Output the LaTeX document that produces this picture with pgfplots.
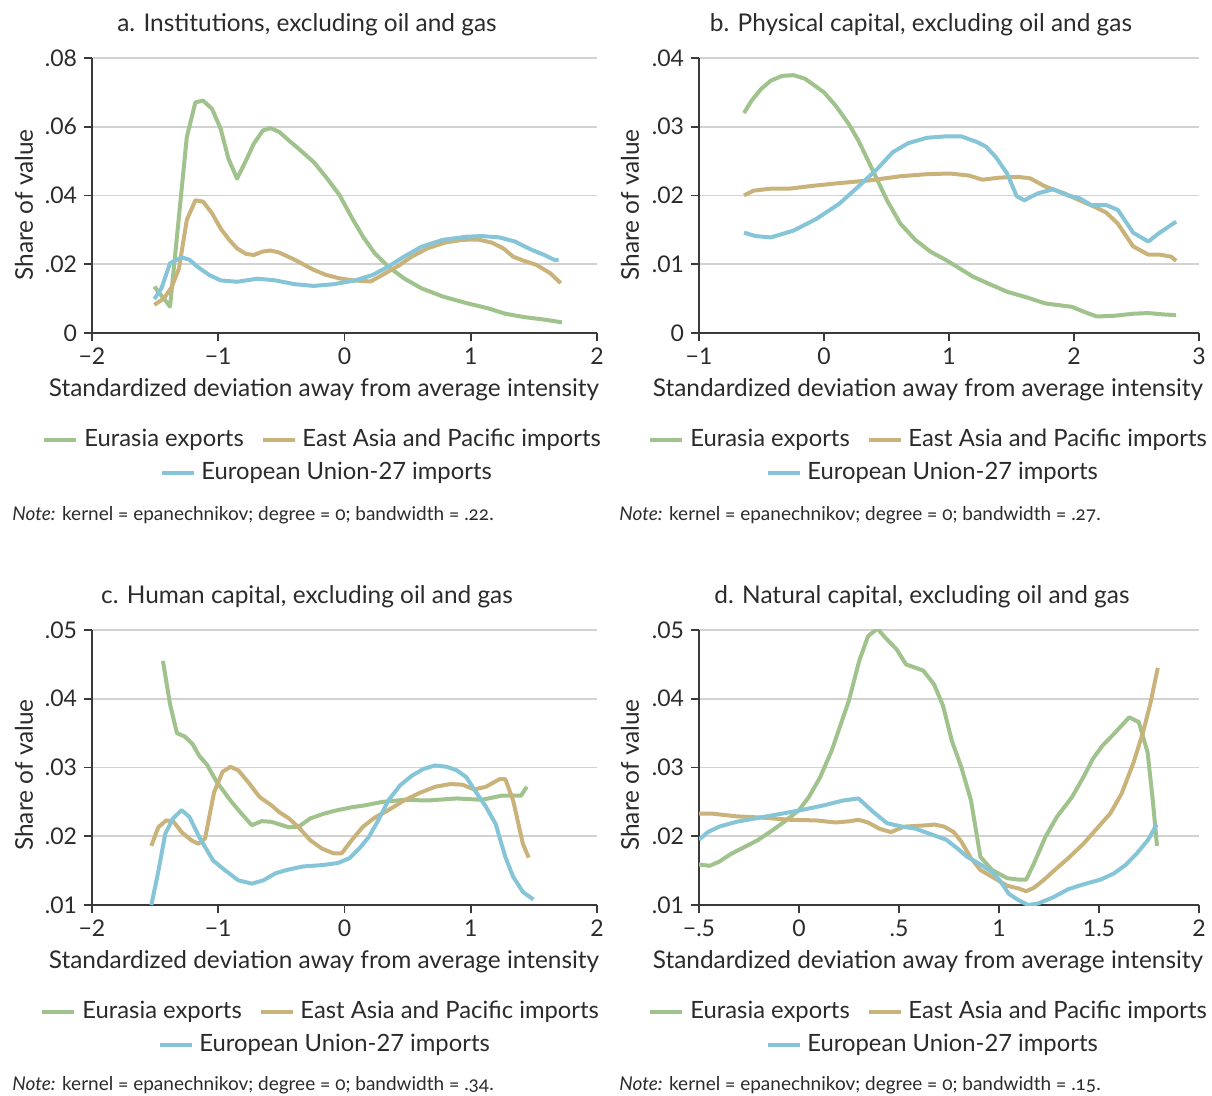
\documentclass[border=0pt]{standalone}
\usepackage{fontspec}
\setmainfont{Lato}
\newfontfamily\notefont[Numbers=OldStyle]{Lato}
\usepackage{pgfplots}
\pgfplotsset{compat=1.18}

\definecolor{cEur}{HTML}{A0C28C}
\definecolor{cEap}{HTML}{C9B37A}
\definecolor{cEu}{HTML}{86C5D8}
\definecolor{cAx}{HTML}{3A3A3A}
\definecolor{cGrid}{HTML}{D2D2D2}
\definecolor{cTxt}{HTML}{2B2B2B}

\pgfplotsset{panel/.style={
  scale only axis, width=252.5pt, height=137.5pt, anchor=south west,
  axis x line=bottom, axis y line=left,
  axis line style={-, cAx, line width=0.9pt},
  ymajorgrids, grid style={cGrid, line width=0.8pt},
  tick style={cAx, line width=0.9pt}, major tick length=4pt,
  xtick align=outside, ytick align=outside,
  scaled y ticks=false, scaled x ticks=false,
  tick label style={font=\fontsize{11.5}{13}\selectfont, text=cTxt},
  /pgf/number format/assume math mode=true,
  every axis plot/.append style={line width=2pt, no markers, line join=round},
}}

\newcommand{\lbl}{\fontsize{12.2}{14}\selectfont}
\newcommand{\leglbl}{\fontsize{11.9}{14}\selectfont}
\newcommand{\notes}{\notefont\fontsize{9.5}{11}\selectfont}

% legend: x offset (px), y offset (px)
\newcommand{\legend}[2]{%
  \begin{scope}[shift={(#1,#2)}]
    \draw[cEur, line width=2pt] (44,440) -- (76,440);
    \node[anchor=west, inner sep=0, text=cTxt] at (84,440) {\leglbl Eurasia exports};
    \draw[cEap, line width=2pt] (263,440) -- (295,440);
    \node[anchor=west, inner sep=0, text=cTxt] at (302,440) {\leglbl East Asia and Pacific imports};
    \draw[cEu, line width=2pt] (162,473) -- (194,473);
    \node[anchor=west, inner sep=0, text=cTxt] at (201,473) {\leglbl European Union-27 imports};
  \end{scope}}

\begin{document}
\begin{tikzpicture}
\path[use as bounding box] (0,0) rectangle (606pt,-548pt);

% ---------- a ----------
\begin{axis}[panel, at={(46pt,-166.5pt)},
  xmin=-2, xmax=2, ymin=0, ymax=0.08,
  xtick={-2,-1,0,1,2}, xticklabels={−2,−1,0,1,2},
  ytick={0,0.02,0.04,0.06,0.08}, yticklabels={0,.02,.04,.06,.08}]
\addplot[cEur] coordinates {
(-1.506,.0135) (-1.382,.0077) (-1.249,.0570) (-1.181,.0671) (-1.120,.0676)
(-1.049,.0652) (-0.981,.0594) (-0.919,.0507) (-0.851,.0449) (-0.780,.0502)
(-0.718,.0551) (-0.647,.0589) (-0.586,.0596) (-0.517,.0585) (-0.440,.0560)
(-0.363,.0536) (-0.246,.0498) (-0.147,.0454) (-0.039,.0401) (0.054,.0338)
(0.147,.0280) (0.239,.0232) (0.347,.0193) (0.471,.0159) (0.610,.0130)
(0.780,.0106) (0.965,.0087) (1.135,.0072) (1.274,.0056) (1.429,.0046)
(1.583,.0039) (1.722,.0031)};
\addplot[cEap] coordinates {
(-1.506,.0082) (-1.429,.0101) (-1.367,.0135) (-1.311,.0188) (-1.249,.0329)
(-1.181,.0386) (-1.120,.0382) (-1.049,.0348) (-0.981,.0304) (-0.913,.0271)
(-0.851,.0246) (-0.780,.0230) (-0.718,.0227) (-0.647,.0237) (-0.586,.0240)
(-0.517,.0234) (-0.394,.0213) (-0.246,.0184) (-0.147,.0169) (-0.039,.0159)
(0.069,.0153) (0.208,.0150) (0.301,.0169) (0.425,.0195) (0.532,.0222)
(0.656,.0246) (0.795,.0263) (0.934,.0271) (1.058,.0272) (1.166,.0263)
(1.259,.0246) (1.336,.0222) (1.413,.0211) (1.521,.0198) (1.629,.0174)
(1.713,.0145)};
\addplot[cEu] coordinates {
(-1.506,.0099) (-1.450,.0130) (-1.382,.0203) (-1.290,.0220) (-1.228,.0213)
(-1.166,.0193) (-1.073,.0169) (-0.981,.0153) (-0.851,.0149) (-0.688,.0158)
(-0.548,.0153) (-0.394,.0142) (-0.246,.0137) (-0.085,.0142) (0.085,.0153)
(0.224,.0169) (0.347,.0193) (0.471,.0222) (0.610,.0251) (0.780,.0271)
(0.965,.0280) (1.089,.0282) (1.228,.0278) (1.351,.0266) (1.475,.0243)
(1.583,.0227) (1.660,.0213) (1.697,.0213)};
\end{axis}

% ---------- b ----------
\begin{axis}[panel, at={(349.5pt,-166.5pt)}, width=250pt,
  xmin=-1, xmax=3, ymin=0, ymax=0.04,
  xtick={-1,0,1,2,3}, xticklabels={−1,0,1,2,3},
  ytick={0,0.01,0.02,0.03,0.04}, yticklabels={0,.01,.02,.03,.04}]
\addplot[cEur] coordinates {
(-0.640,.0320) (-0.579,.0338) (-0.503,.0355) (-0.426,.0367) (-0.335,.0374)
(-0.243,.0375) (-0.153,.0370) (-0.076,.0360) (0.000,.0350) (0.092,.0331)
(0.198,.0304) (0.275,.0280) (0.352,.0251) (0.428,.0222) (0.504,.0193)
(0.611,.0159) (0.733,.0135) (0.854,.0118) (0.977,.0106) (1.084,.0094)
(1.191,.0082) (1.313,.0072) (1.465,.0060) (1.618,.0052) (1.771,.0043)
(1.984,.0038) (2.091,.0030) (2.183,.0024) (2.320,.0025) (2.473,.0028)
(2.594,.0029) (2.716,.0027) (2.817,.0026)};
\addplot[cEap] coordinates {
(-0.640,.0200) (-0.564,.0207) (-0.426,.0210) (-0.274,.0210) (-0.092,.0214)
(0.122,.0218) (0.367,.0222) (0.611,.0228) (0.824,.0231) (1.008,.0232)
(1.160,.0229) (1.267,.0223) (1.404,.0226) (1.557,.0227) (1.648,.0225)
(1.771,.0213) (1.923,.0203) (2.045,.0193) (2.183,.0182) (2.259,.0175)
(2.351,.0159) (2.473,.0126) (2.594,.0114) (2.686,.0114) (2.777,.0111)
(2.817,.0105)};
\addplot[cEu] coordinates {
(-0.640,.0146) (-0.548,.0141) (-0.426,.0139) (-0.243,.0149) (-0.061,.0166)
(0.122,.0188) (0.275,.0213) (0.428,.0239) (0.550,.0263) (0.672,.0276)
(0.824,.0284) (0.977,.0286) (1.099,.0286) (1.221,.0278) (1.297,.0271)
(1.374,.0256) (1.465,.0232) (1.541,.0199) (1.602,.0193) (1.709,.0203)
(1.832,.0209) (1.953,.0200) (2.045,.0196) (2.137,.0186) (2.259,.0186)
(2.351,.0179) (2.473,.0146) (2.594,.0133) (2.686,.0146) (2.817,.0162)};
\end{axis}

% ---------- c ----------
\begin{axis}[panel, at={(46pt,-452.5pt)},
  xmin=-2, xmax=2, ymin=0.01, ymax=0.05,
  xtick={-2,-1,0,1,2}, xticklabels={−2,−1,0,1,2},
  ytick={0.01,0.02,0.03,0.04,0.05}, yticklabels={.01,.02,.03,.04,.05}]
\addplot[cEur] coordinates {
(-1.438,.0455) (-1.382,.0392) (-1.327,.0350) (-1.265,.0345) (-1.203,.0334)
(-1.151,.0317) (-1.089,.0304) (-1.012,.0279) (-0.903,.0252) (-0.826,.0235)
(-0.734,.0216) (-0.656,.0222) (-0.579,.0221) (-0.440,.0213) (-0.363,.0214)
(-0.270,.0226) (-0.162,.0233) (-0.054,.0238) (0.054,.0242) (0.162,.0245)
(0.301,.0250) (0.471,.0253) (0.657,.0252) (0.888,.0255) (1.089,.0253)
(1.243,.0259) (1.398,.0259) (1.444,.0272)};
\addplot[cEap] coordinates {
(-1.530,.0186) (-1.475,.0213) (-1.413,.0223) (-1.358,.0222) (-1.290,.0206)
(-1.212,.0194) (-1.157,.0189) (-1.104,.0197) (-1.033,.0264) (-0.965,.0294)
(-0.903,.0301) (-0.842,.0296) (-0.764,.0279) (-0.672,.0257) (-0.579,.0245)
(-0.517,.0235) (-0.440,.0226) (-0.363,.0213) (-0.270,.0194) (-0.178,.0182)
(-0.085,.0175) (-0.023,.0175) (0.069,.0197) (0.147,.0214) (0.239,.0227)
(0.347,.0238) (0.471,.0252) (0.595,.0263) (0.718,.0272) (0.842,.0276)
(0.934,.0275) (1.027,.0268) (1.120,.0272) (1.228,.0283) (1.274,.0283)
(1.336,.0252) (1.413,.0189) (1.459,.0169)};
\addplot[cEu] coordinates {
(-1.530,.0100) (-1.481,.0143) (-1.419,.0204) (-1.358,.0226) (-1.290,.0238)
(-1.228,.0228) (-1.151,.0199) (-1.042,.0165) (-0.950,.0151) (-0.842,.0136)
(-0.734,.0131) (-0.641,.0136) (-0.548,.0146) (-0.456,.0151) (-0.332,.0156)
(-0.178,.0158) (-0.054,.0161) (0.039,.0168) (0.116,.0182) (0.193,.0199)
(0.270,.0224) (0.347,.0252) (0.440,.0274) (0.533,.0288) (0.626,.0298)
(0.718,.0303) (0.811,.0301) (0.888,.0296) (0.965,.0286) (1.042,.0264)
(1.120,.0243) (1.197,.0218) (1.274,.0170) (1.336,.0141) (1.413,.0119)
(1.496,.0108)};
\end{axis}

% ---------- d ----------
\begin{axis}[panel, at={(349.5pt,-452.5pt)}, width=250pt,
  xmin=-0.5, xmax=2, ymin=0.01, ymax=0.05,
  xtick={-0.5,0,0.5,1,1.5,2}, xticklabels={−.5,0,.5,1,1.5,2},
  ytick={0.01,0.02,0.03,0.04,0.05}, yticklabels={.01,.02,.03,.04,.05}]
\addplot[cEur] coordinates {
(-0.500,.0159) (-0.447,.0157) (-0.399,.0163) (-0.342,.0174) (-0.275,.0184)
(-0.208,.0194) (-0.141,.0207) (-0.065,.0223) (0.000,.0238) (0.049,.0257)
(0.106,.0286) (0.164,.0325) (0.249,.0397) (0.301,.0455) (0.345,.0491)
(0.392,.0502) (0.431,.0489) (0.488,.0472) (0.535,.0450) (0.583,.0445)
(0.621,.0441) (0.675,.0421) (0.720,.0390) (0.764,.0339) (0.812,.0300)
(0.860,.0252) (0.907,.0170) (0.965,.0151) (1.041,.0139) (1.098,.0137)
(1.136,.0137) (1.174,.0160) (1.232,.0199) (1.289,.0228) (1.365,.0257)
(1.422,.0286) (1.470,.0313) (1.518,.0332) (1.575,.0349) (1.613,.0361)
(1.651,.0373) (1.699,.0366) (1.743,.0322) (1.769,.0252) (1.790,.0186)};
\addplot[cEap] coordinates {
(-0.500,.0233) (-0.437,.0233) (-0.313,.0229) (-0.180,.0227) (-0.046,.0224)
(0.087,.0223) (0.183,.0220) (0.259,.0222) (0.297,.0224) (0.345,.0220)
(0.402,.0211) (0.459,.0206) (0.526,.0214) (0.583,.0215) (0.640,.0216)
(0.678,.0217) (0.726,.0214) (0.774,.0206) (0.812,.0192) (0.860,.0168)
(0.907,.0151) (0.965,.0141) (1.041,.0128) (1.098,.0124) (1.136,.0120)
(1.174,.0125) (1.222,.0136) (1.279,.0151) (1.346,.0168) (1.422,.0189)
(1.498,.0214) (1.556,.0233) (1.613,.0262) (1.670,.0305) (1.718,.0349)
(1.756,.0392) (1.794,.0445)};
\addplot[cEu] coordinates {
(-0.500,.0195) (-0.456,.0206) (-0.399,.0214) (-0.313,.0221) (-0.218,.0226)
(-0.103,.0232) (0.011,.0238) (0.125,.0245) (0.221,.0252) (0.297,.0255)
(0.373,.0235) (0.440,.0219) (0.516,.0214) (0.583,.0211) (0.659,.0203)
(0.736,.0195) (0.793,.0182) (0.841,.0170) (0.907,.0159) (0.965,.0148)
(1.003,.0136) (1.050,.0116) (1.098,.0107) (1.146,.0100) (1.193,.0102)
(1.270,.0111) (1.346,.0123) (1.422,.0130) (1.508,.0137) (1.575,.0146)
(1.632,.0158) (1.689,.0175) (1.746,.0195) (1.788,.0217)};
\end{axis}

% ---------- text in pixel units ----------
\begin{scope}[x=0.5pt, y=-0.5pt, every node/.style={text=cTxt}]
  \node at (307,25) {\lbl a. Institutions, excluding oil and gas};
  \node at (921,25) {\lbl b. Physical capital, excluding oil and gas};
  \node at (307,597) {\lbl c. Human capital, excluding oil and gas};
  \node at (922,597) {\lbl d. Natural capital, excluding oil and gas};

  \node[rotate=90] at (24,205) {\lbl Share of value};
  \node[rotate=90] at (630,205) {\lbl Share of value};
  \node[rotate=90] at (24,775) {\lbl Share of value};
  \node[rotate=90] at (630,775) {\lbl Share of value};

  \node at (324,390) {\lbl Standardized deviation away from average intensity};
  \node at (928,390) {\lbl Standardized deviation away from average intensity};
  \node at (324,962) {\lbl Standardized deviation away from average intensity};
  \node at (928,962) {\lbl Standardized deviation away from average intensity};

  \legend{0}{0}
  \legend{606}{0}
  \legend{-2}{572}
  \legend{606}{572}

  \node[anchor=west, inner sep=0] at (12,515) {\notes\textit{Note:} kernel = epanechnikov; degree = 0; bandwidth = .22.};
  \node[anchor=west, inner sep=0] at (619,515) {\notes\textit{Note:} kernel = epanechnikov; degree = 0; bandwidth = .27.};
  \node[anchor=west, inner sep=0] at (12,1085) {\notes\textit{Note:} kernel = epanechnikov; degree = 0; bandwidth = .34.};
  \node[anchor=west, inner sep=0] at (619,1085) {\notes\textit{Note:} kernel = epanechnikov; degree = 0; bandwidth = .15.};
\end{scope}
\end{tikzpicture}
\end{document}
